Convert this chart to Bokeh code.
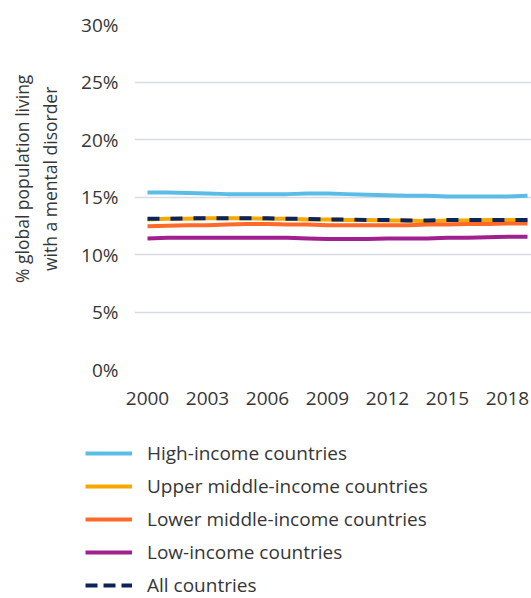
from bokeh.plotting import figure
from bokeh.layouts import column
from bokeh.models import Range1d, Legend, LegendItem, FixedTicker, CustomJSTickFormatter
from bokeh.embed import file_html
from bokeh.resources import INLINE

years = list(range(2000, 2020))
high_income = [15.4, 15.4, 15.35, 15.3, 15.25, 15.25, 15.25, 15.25, 15.3, 15.3,
               15.25, 15.2, 15.15, 15.1, 15.1, 15.05, 15.05, 15.05, 15.05, 15.1]
upper_middle = [13.05, 13.1, 13.1, 13.15, 13.15, 13.15, 13.1, 13.1, 13.05, 13.05,
                13.0, 13.0, 12.95, 12.95, 12.9, 12.95, 12.95, 13.0, 13.0, 13.0]
lower_middle = [12.45, 12.5, 12.55, 12.55, 12.6, 12.65, 12.65, 12.6, 12.6, 12.55,
                12.55, 12.55, 12.55, 12.55, 12.6, 12.6, 12.65, 12.65, 12.7, 12.7]
low_income = [11.4, 11.45, 11.45, 11.45, 11.45, 11.45, 11.45, 11.45, 11.4, 11.35,
              11.35, 11.35, 11.4, 11.4, 11.4, 11.45, 11.45, 11.5, 11.55, 11.55]
all_countries = [13.1, 13.1, 13.15, 13.15, 13.15, 13.15, 13.15, 13.1, 13.1, 13.05,
                 13.05, 13.0, 13.0, 12.95, 12.95, 13.0, 13.0, 13.0, 13.0, 13.0]
x_ticks = [2000, 2003, 2006, 2009, 2012, 2015, 2018]
y_ticks = [0, 5, 10, 15, 20, 25, 30]

series_names = ["High-income countries", "Upper middle-income countries",
                "Lower middle-income countries", "Low-income countries", "All countries"]
series_values = [high_income, upper_middle, lower_middle, low_income, all_countries]
series_colors = ["#5bbde6", "#f5a800", "#ff6a2a", "#a1208f", "#0c2458"]
series_dash = ["solid", "solid", "solid", "solid", "12 11"]
legend_dash = ["solid", "solid", "solid", "solid", "12 6"]

FONT = "Open Sans"
TEXT = "#363636"
PAD = "\u00a0" * 8  # shifts the rotated title slightly upwards

p = figure(width=531, height=430, output_backend="svg", toolbar_location=None,
           x_range=Range1d(1999.35, 2019.2), y_range=Range1d(0, 30),
           min_border_left=134, min_border_right=0, min_border_top=24,
           min_border_bottom=61)
p.frame_align = False
p.outline_line_color = None
p.background_fill_color = "white"
p.border_fill_color = "white"

p.xgrid.grid_line_color = None
p.ygrid.grid_line_color = "#d8dce5"
p.ygrid.grid_line_width = 1.5

p.xaxis.ticker = FixedTicker(ticks=x_ticks)
p.yaxis.ticker = FixedTicker(ticks=y_ticks)
p.yaxis.formatter = CustomJSTickFormatter(code="return tick + '%';")
for ax in (p.xaxis, p.yaxis):
    ax.axis_line_color = None
    ax.major_tick_line_color = None
    ax.minor_tick_line_color = None
    ax.major_label_text_font = FONT
    ax.major_label_text_font_size = "19px"
    ax.major_label_text_color = TEXT
p.xaxis.major_label_standoff = 16
p.yaxis.major_label_standoff = 10
p.yaxis.axis_label = PAD + "% global population living\n" + PAD + "with a mental disorder"
p.yaxis.axis_label_text_font = FONT
p.yaxis.axis_label_text_font_size = "17.5px"
p.yaxis.axis_label_text_font_style = "normal"
p.yaxis.axis_label_text_color = TEXT
p.yaxis.axis_label_text_line_height = 1.15
p.yaxis.axis_label_standoff = 16

for name, vals, col, dash in zip(series_names, series_values, series_colors, series_dash):
    p.line(years, vals, line_color=col, line_width=4, line_dash=dash)

# legend panel below the chart (its own lines lie outside its visible range)
q = figure(width=531, height=168, output_backend="svg", toolbar_location=None,
           x_range=Range1d(0, 1), y_range=Range1d(0, 1),
           min_border_left=0, min_border_right=0, min_border_top=0, min_border_bottom=0)
q.frame_align = False
q.axis.visible = False
q.grid.grid_line_color = None
q.outline_line_color = None
q.background_fill_color = "white"
q.border_fill_color = "white"
items = []
for name, vals, col, dash in zip(series_names, series_values, series_colors, legend_dash):
    lr = q.line(years, vals, line_color=col, line_width=4, line_dash=dash)
    items.append(LegendItem(label=name, renderers=[lr]))
legend = Legend(items=items, location=(85, 0), orientation="vertical",
                label_text_font=FONT, label_text_font_size="19px",
                label_text_color=TEXT, glyph_width=47, glyph_height=20,
                label_height=20, spacing=7, padding=0, margin=0,
                label_standoff=15, border_line_color=None,
                background_fill_alpha=0)
q.add_layout(legend, "center")

layout = column(p, q, spacing=0)
open("out.html", "w").write(file_html(layout, INLINE))
